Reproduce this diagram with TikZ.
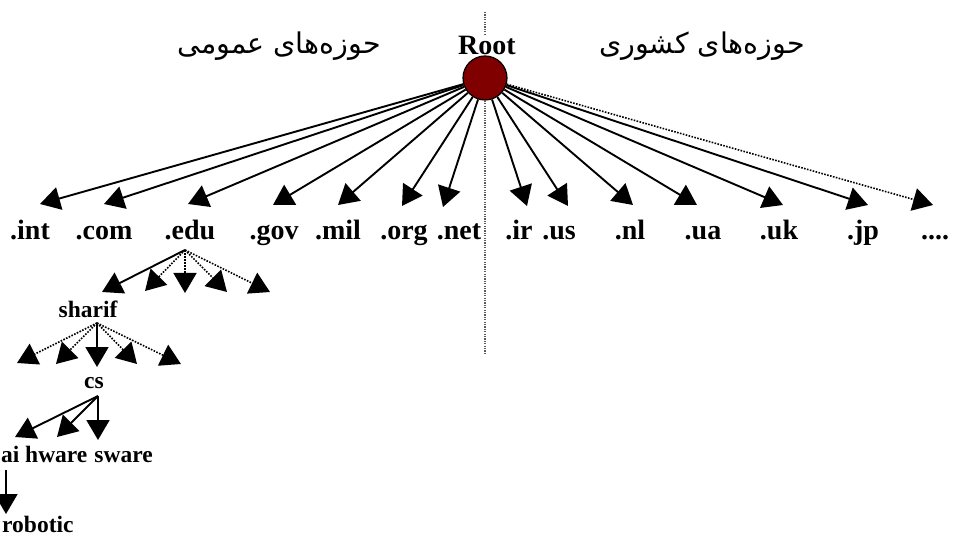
\documentclass[tikz,border=0pt]{standalone}
\usepackage{fontspec}
\setmainfont{Liberation Serif}
\newfontfamily\arabicfont[Script=Arabic]{DejaVu Sans}
\TeXXeTstate=1
\usetikzlibrary{arrows.meta}
\definecolor{rootred}{RGB}{128,0,0}
\begin{document}
\begin{tikzpicture}[x=1pt,y=-1pt,
  lbl/.style={font=\fontsize{28}{30}\selectfont\bfseries, inner sep=0pt, anchor=base},
  sub/.style={font=\fontsize{23.5}{25}\selectfont\bfseries, inner sep=0pt, anchor=base},
  fa/.style={font=\fontsize{28.5}{30}\selectfont\arabicfont, inner sep=0pt, anchor=base},
  tip/.style={-{Triangle[length=20pt,width=23pt]}},
  arr/.style={tip, line width=1.9pt},
  darr/.style={tip, line width=1.6pt, dash pattern=on 1.6pt off 1.4pt},
  divider/.style={line width=1.2pt, dash pattern=on 1.2pt off 1.2pt, gray!70!black}
]
\useasboundingbox (0,0) rectangle (953,537);

% divider
\coordinate (dtop) at (485,12);
\coordinate (dbot) at (485,353);
\draw[divider] (dtop) -- (dbot);

% headings
\node[lbl, fill=white, inner sep=1pt] (roottxt) at (487,55) {Root};
\node[fa] (gen) at (279,54) {\beginR حوزه‌های عمومی\endR};
\node[fa] (cty) at (702,54) {\beginR حوزه‌های کشوری\endR};

% root
\node[circle, draw=black, line width=1.2pt, fill=rootred, minimum size=44pt, inner sep=0pt] (root) at (485,78) {};

% top-level domains
\node[lbl] (int) at (30,240) {.int};
\node[lbl] (com) at (104,240) {.com};
\node[lbl] (edu) at (190,240) {.edu};
\node[lbl] (gov) at (274,240) {.gov};
\node[lbl] (mil) at (338,240) {.mil};
\node[lbl] (org) at (404,240) {.org};
\node[lbl] (net) at (459,240) {.net};
\node[lbl] (ir) at (519,240) {.ir};
\node[lbl] (us) at (559,240) {.us};
\node[lbl] (nl) at (630,240) {.nl};
\node[lbl] (ua) at (703,240) {.ua};
\node[lbl] (uk) at (779,240) {.uk};
\node[lbl] (jp) at (863,240) {.jp};
\node[lbl] (more) at (935,240) {....};

% arrow tips above the domains
\coordinate (t-int) at (40,204);
\coordinate (t-com) at (104,204);
\coordinate (t-edu) at (188,204);
\coordinate (t-gov) at (273,205);
\coordinate (t-mil) at (338,205);
\coordinate (t-org) at (402,206);
\coordinate (t-net) at (443,207);
\coordinate (t-ir) at (527,206);
\coordinate (t-us) at (568,206);
\coordinate (t-nl) at (633,205);
\coordinate (t-ua) at (697,205);
\coordinate (t-uk) at (783,205);
\coordinate (t-jp) at (868,205);
\coordinate (t-more) at (933,205);

\foreach \d in {int,com,edu,gov,mil,org,net,ir,us,nl,ua,uk,jp}
  \draw[arr] (root) -- (t-\d);
\draw[darr] (root) -- (t-more);

% edu subtree
\coordinate (edu-o) at (185,250);
\coordinate (e1) at (102,292);
\coordinate (e2) at (145,291);
\coordinate (e3) at (185,293);
\coordinate (e4) at (227,292);
\coordinate (e5) at (270,292);
\draw[arr] (edu-o) -- (e1);
\draw[darr] (edu-o) -- (e2);
\draw[darr] (edu-o) -- (e3);
\draw[darr] (edu-o) -- (e4);
\draw[darr] (edu-o) -- (e5);

\node[sub] (sharif) at (88,318) {sharif};

% sharif subtree
\coordinate (sh-o) at (97,323);
\coordinate (s1) at (17,363);
\coordinate (s2) at (56,364);
\coordinate (s3) at (97,367);
\coordinate (s4) at (137,364);
\coordinate (s5) at (181,364);
\draw[darr] (sh-o) -- (s1);
\draw[darr] (sh-o) -- (s2);
\draw[arr] (sh-o) -- (s3);
\draw[darr] (sh-o) -- (s4);
\draw[darr] (sh-o) -- (s5);

\node[sub] (cs) at (94,388) {cs};

% cs subtree
\coordinate (cs-o) at (98,396);
\coordinate (c1) at (15,437);
\coordinate (c2) at (57,437);
\coordinate (c3) at (98,440);
\draw[arr] (cs-o) -- (c1);
\draw[arr] (cs-o) -- (c2);
\draw[arr] (cs-o) -- (c3);

\node[sub, anchor=base west] (ai) at (1,462) {ai};
\node[sub, anchor=base west] (hware) at (25,462) {hware};
\node[sub, anchor=base east] (sware) at (153,462) {sware};

\coordinate (ai-o) at (6,470);
\coordinate (rb) at (6,514);
\draw[arr] (ai-o) -- (rb);

\node[sub, anchor=base west] (robotic) at (2,532) {robotic};
\end{tikzpicture}
\end{document}
